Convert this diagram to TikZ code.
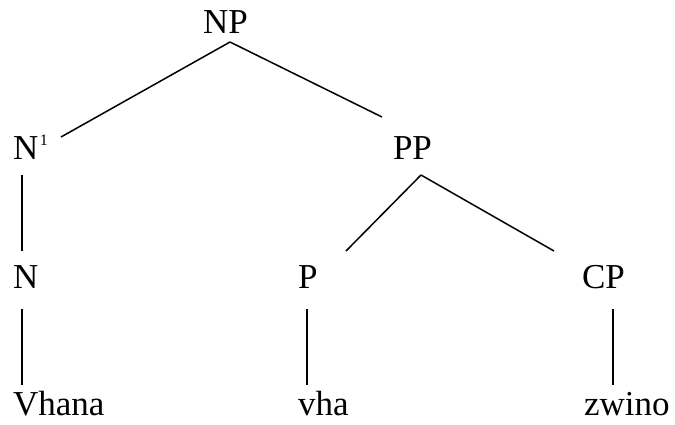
\documentclass[tikz,border=0pt]{standalone}
\usepackage{fontspec}
\setmainfont{Liberation Serif}
\begin{document}
\begin{tikzpicture}[x=1pt,y=-1pt,
  lbl/.style={anchor=base west,inner sep=0pt,outer sep=0pt,font=\fontsize{35}{35}\selectfont},
  edge/.style={line width=1.5pt,line cap=butt}]
\useasboundingbox (0,0) rectangle (675,424);
\node[lbl] (np) at (203,33) {NP};
\node[lbl] (n1) at (13,159) {N\kern1.5pt\raisebox{14pt}{\fontsize{16}{16}\selectfont 1}};
\node[lbl] (pp) at (393,159) {PP};
\node[lbl] (n) at (13,288) {N};
\node[lbl] (p) at (298,288) {P};
\node[lbl] (cp) at (582,288) {CP};
\node[lbl] (vhana) at (13,415) {Vhana};
\node[lbl] (vha) at (298,415) {vha};
\node[lbl] (zwino) at (584,415) {zwino};
\draw[edge] ([shift={(27,9)}]np.base west) -- ([shift={(48,-22)}]n1.base west);
\draw[edge] ([shift={(27,9)}]np.base west) -- ([shift={(-11,-42)}]pp.base west);
\draw[edge] ([shift={(9,16)}]n1.base west) -- ([shift={(9,-37)}]n.base west);
\draw[edge] ([shift={(28,16)}]pp.base west) -- ([shift={(48,-37)}]p.base west);
\draw[edge] ([shift={(28,16)}]pp.base west) -- ([shift={(-28,-37)}]cp.base west);
\draw[edge] ([shift={(9,21)}]n.base west) -- ([shift={(9,-30)}]vhana.base west);
\draw[edge] ([shift={(9,21)}]p.base west) -- ([shift={(9,-30)}]vha.base west);
\draw[edge] ([shift={(31,21)}]cp.base west) -- ([shift={(29,-30)}]zwino.base west);
\end{tikzpicture}
\end{document}
